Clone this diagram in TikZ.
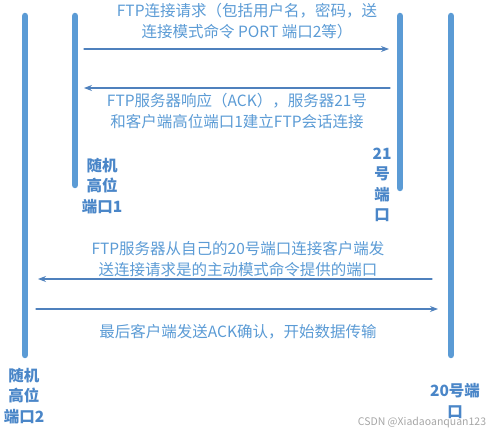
\documentclass[tikz,border=0pt]{standalone}
\usepackage{fontspec}
\newfontfamily\cjk{Noto Sans CJK SC}
\usetikzlibrary{arrows.meta}
\definecolor{thanh}{HTML}{5B9BD5}
\definecolor{muiten}{HTML}{4F81BD}
\definecolor{chu}{HTML}{5B9BD5}
\definecolor{nhan}{HTML}{4A86C8}
\tikzset{loi/.style={text=chu,align=center,inner sep=0pt},
	cong/.style={text=nhan,align=center,inner sep=0pt,font=\cjk\bfseries\fontsize{15.5}{20.5}\selectfont}}
\begin{document}
\begin{tikzpicture}[x=1pt,y=-1pt,line join=round,line cap=round,font=\cjk\fontsize{15.5}{21}\selectfont,>={Stealth[length=8pt,width=6pt]}]% toa do
				\useasboundingbox (0,0) rectangle (499,433);
				\path (25,16) coordinate (A) (25,355) coordinate (A')
				(75,16) coordinate (B) (75,185) coordinate (B')
				(400,16) coordinate (C) (400,188) coordinate (C')
				(451,16) coordinate (D) (451,355) coordinate (D');
				\path (84,49) coordinate (M1) (389,49) coordinate (N1)
				(390,88) coordinate (M2) (84,88) coordinate (N2)
				(432,279) coordinate (M3) (38,279) coordinate (N3)
				(36,309) coordinate (M4) (438,309) coordinate (N4);
				\foreach \x in {A,B,C,D}{\draw[thanh,line width=6.5pt] (\x)--(\x');}%cac thanh doc
				\foreach \x/\y in {M1/N1,M2/N2,M3/N3,M4/N4}{\draw[->,muiten,line width=1.1pt] (\x)--(\y);}%mui ten
				\path (247,21) node[loi] (t1) {FTP连接请求（包括用户名，密码，送\\连接模式命令 PORT 端口2等）};
				\path (237,111) node[loi] (t2) {FTP服务器响应（ACK），服务器21号\\和客户端高位端口1建立FTP会话连接};
				\path (238,259) node[loi] (t3) {FTP服务器从自己的20号端口连接客户端发\\送连接请求是的主动模式命令提供的端口};
				\path (238,332) node[loi] (t4) {最后客户端发送ACK确认，开始数据传输};
				\path (102,186) node[cong] (p1) {随机\\高位\\端口1};
				\path (382,185) node[cong] (p21) {21\\号\\端\\口};
				\path (24,396) node[cong] (p2) {随机\\高位\\端口2};
				\path (455,401) node[cong] (p20) {20号端\\口};
				\path (422,423) node[text=black!35,inner sep=0pt,font=\fontsize{10.5}{12}\selectfont\cjk] (wm) {CSDN @Xiadaoanquan123};
			\end{tikzpicture}
\end{document}
